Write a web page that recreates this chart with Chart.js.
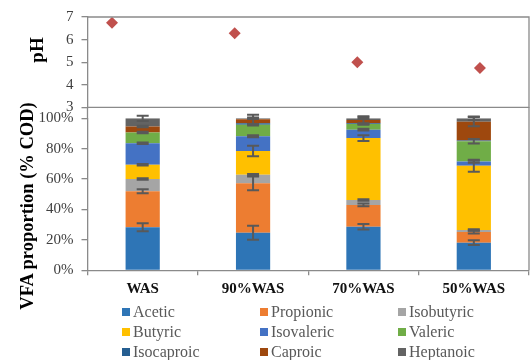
<!DOCTYPE html>
<html>
<head>
<meta charset="utf-8">
<script src="https://cdn.jsdelivr.net/npm/chart.js@4.4.1/dist/chart.umd.min.js"></script>
<style>
  html, body { margin: 0; padding: 0; background: #fff; }
  #wrap { position: relative; width: 530px; height: 360px; overflow: hidden;
          font-family: "Liberation Serif", "Times New Roman", serif; }
  canvas { position: absolute; left: 0; top: 0; }
  .ytitle { position: absolute; transform: translate(-50%, -50%) rotate(-90deg);
            white-space: nowrap; font-weight: bold; line-height: 1; color: #000; }
  #legend { position: absolute; left: 122px; top: 302px; display: grid;
            grid-template-columns: 138px 138px 138px; grid-auto-rows: 20px; }
  .item { display: flex; align-items: center; font-size: 16px; color: #595959; }
  .box { width: 8px; height: 8px; margin-right: 3px; flex: none; }
</style>
</head>
<body>
<div id="wrap">
  <canvas id="vfa" width="530" height="360"></canvas>
  <canvas id="ph" width="530" height="125"></canvas>
  <div class="ytitle" style="left:36px; top:50px; font-size:19px;">pH</div>
  <div class="ytitle" style="left:26.5px; top:206px; font-size:18.5px;">VFA proportion (% COD)</div>
  <div id="legend"></div>
</div>
<script>
// Feed mixtures
const categories = ['WAS', '90%WAS', '70%WAS', '50%WAS'];

// Final pH of each reactor
const phValues = [6.74, 6.28, 5.0, 4.74];

// VFA share of total COD (%) per acid
const acetic     = [28.3, 24.7, 28.7, 18.2];
const propionic  = [23.7, 32.5, 14.3, 7.0];
const isobutyric = [8.1, 5.7, 3.3, 1.3];
const butyric    = [9.4, 15.6, 40.7, 42.3];
const isovaleric = [14.1, 9.7, 5.5, 2.7];
const valeric    = [7.0, 7.6, 3.8, 13.4];
const isocaproic = [0.0, 0.9, 0.5, 0.5];
const caproic    = [4.0, 2.6, 2.0, 12.4];
const heptanoic  = [5.4, 0.7, 1.2, 2.2];

// Standard deviations (%)
const aceticErr     = [2.6, 4.6, 1.8, 1.5];
const propionicErr  = [1.3, 4.5, 0.9, 1.0];
const isobutyricErr = [0.5, 0.5, 0.5, 0.5];
const butyricErr    = [0.5, 3.4, 1.9, 4.0];
const isovalericErr = [0.5, 0.6, 0.6, 0.8];
const valericErr    = [0.5, 0.5, 0.5, 1.5];
const isocaproicErr = [0, 0, 0, 0];
const caproicErr    = [0.5, 3.0, 2.6, 3.0];
const heptanoicErr  = [1.7, 0.5, 0.5, 1.2];

// pH axis and VFA axis ticks
const phTicks = [3, 4, 5, 6, 7];
const pctTicks = [0, 20, 40, 60, 80, 100];

const acids = [
  { label: 'Acetic',     data: acetic,     err: aceticErr,     color: '#2E75B6' },
  { label: 'Propionic',  data: propionic,  err: propionicErr,  color: '#ED7D31' },
  { label: 'Isobutyric', data: isobutyric, err: isobutyricErr, color: '#A5A5A5' },
  { label: 'Butyric',    data: butyric,    err: butyricErr,    color: '#FFC000' },
  { label: 'Isovaleric', data: isovaleric, err: isovalericErr, color: '#4472C4' },
  { label: 'Valeric',    data: valeric,    err: valericErr,    color: '#70AD47' },
  { label: 'Isocaproic', data: isocaproic, err: isocaproicErr, color: '#255E91' },
  { label: 'Caproic',    data: caproic,    err: caproicErr,    color: '#9E480E' },
  { label: 'Heptanoic',  data: heptanoic,  err: heptanoicErr,  color: '#636363' }
];

const FONT = '"Liberation Serif", "Times New Roman", serif';
const AXIS_COLOR = '#8a8a8a';
const AXIS_W = 1.3;
const TICK_COLOR = '#404040';
const AXIS_LEFT = 87.5;
const PLOT_GAP = 11; // space between the pH panel and the 100% line

// Outline around the pH panel (left side is the y axis line)
const phFrame = {
  id: 'phFrame',
  afterDraw(chart) {
    const { ctx, chartArea: a } = chart;
    ctx.save();
    ctx.strokeStyle = AXIS_COLOR;
    ctx.lineWidth = AXIS_W;
    ctx.beginPath();
    ctx.moveTo(a.left, a.top);
    ctx.lineTo(a.right, a.top);
    ctx.lineTo(a.right, a.bottom);
    ctx.lineTo(a.left, a.bottom);
    ctx.stroke();
    ctx.restore();
  }
};

// Right edge of the lower panel, continuing the outline
const vfaFrame = {
  id: 'vfaFrame',
  afterDraw(chart) {
    const { ctx, chartArea: a } = chart;
    ctx.save();
    ctx.strokeStyle = AXIS_COLOR;
    ctx.lineWidth = AXIS_W;
    ctx.beginPath();
    ctx.moveTo(a.right, a.top - PLOT_GAP);
    ctx.lineTo(a.right, a.bottom);
    ctx.moveTo(a.left, a.top - PLOT_GAP);
    ctx.lineTo(a.left, a.top);
    ctx.stroke();
    ctx.restore();
  }
};

// Error bars at the top of each stacked segment
const errorBars = {
  id: 'errorBars',
  afterDatasetsDraw(chart) {
    const { ctx } = chart;
    const yScale = chart.scales.y;
    ctx.save();
    ctx.strokeStyle = '#595959';
    ctx.lineWidth = 2;
    const cum = categories.map(() => 0);
    chart.data.datasets.forEach((ds, d) => {
      const meta = chart.getDatasetMeta(d);
      ds.data.forEach((v, i) => {
        cum[i] += v;
        const e = ds.errors[i];
        if (!e) return;
        const x = meta.data[i].x;
        const yTop = yScale.getPixelForValue(cum[i] + e);
        const yBot = yScale.getPixelForValue(cum[i] - e);
        const hw = 6;
        ctx.beginPath();
        ctx.moveTo(x, yTop); ctx.lineTo(x, yBot);
        ctx.moveTo(x - hw, yTop); ctx.lineTo(x + hw, yTop);
        ctx.moveTo(x - hw, yBot); ctx.lineTo(x + hw, yBot);
        ctx.stroke();
      });
    });
    ctx.restore();
  }
};

const vfaChart = new Chart(document.getElementById('vfa'), {
  type: 'bar',
  data: {
    labels: categories,
    datasets: acids.map(a => ({
      label: a.label,
      data: a.data,
      errors: a.err,
      backgroundColor: a.color,
      borderWidth: 0
    }))
  },
  options: {
    responsive: false,
    animation: false,
    layout: { autoPadding: false, padding: { top: 118.3, right: 1, bottom: 0, left: 0 } },
    datasets: { bar: { categoryPercentage: 1, barPercentage: 0.31 } },
    plugins: { legend: { display: false }, tooltip: { enabled: false } },
    scales: {
      x: {
        stacked: true,
        grid: { offset: true, drawOnChartArea: false, tickLength: 5, color: AXIS_COLOR, lineWidth: AXIS_W },
        border: { color: AXIS_COLOR, width: AXIS_W },
        ticks: { padding: 4.5, color: '#111', font: { family: FONT, size: 15, weight: 'bold' } },
        afterFit(s) { s.height = 360 - 270.3; }
      },
      y: {
        stacked: true,
        min: 0,
        max: 100,
        afterBuildTicks(s) { s.ticks = pctTicks.map(v => ({ value: v })); },
        ticks: { padding: 8, color: TICK_COLOR, font: { family: FONT, size: 15 }, callback: v => v + '%' },
        grid: { drawOnChartArea: false, tickLength: 6, color: AXIS_COLOR, lineWidth: AXIS_W },
        border: { color: AXIS_COLOR, width: AXIS_W },
        afterFit(s) { s.width = AXIS_LEFT; }
      }
    }
  },
  plugins: [errorBars, vfaFrame]
});

new Chart(document.getElementById('ph'), {
  type: 'scatter',
  data: {
    datasets: [{
      label: 'pH',
      data: phValues.map((v, i) => ({ x: i + 1, y: v })),
      pointStyle: 'rectRot',
      pointRadius: 6,
      backgroundColor: '#C0504D',
      borderColor: '#C0504D',
      borderWidth: 0
    }]
  },
  options: {
    responsive: false,
    animation: false,
    layout: { autoPadding: false, padding: { top: 16, right: 1, bottom: 125 - 107.3, left: 0 } },
    plugins: { legend: { display: false }, tooltip: { enabled: false } },
    scales: {
      x: { type: 'linear', min: 0.8, max: 4.4, display: false },
      y: {
        min: 3,
        max: 7,
        afterBuildTicks(s) { s.ticks = phTicks.map(v => ({ value: v })); },
        ticks: { padding: 8, color: TICK_COLOR, font: { family: FONT, size: 15 } },
        grid: { drawOnChartArea: false, tickLength: 6, color: AXIS_COLOR, lineWidth: AXIS_W },
        border: { color: AXIS_COLOR, width: AXIS_W },
        afterFit(s) { s.width = AXIS_LEFT; }
      }
    }
  },
  plugins: [phFrame]
});

// Legend in three columns, built from the bar datasets
const legendEl = document.getElementById('legend');
vfaChart.data.datasets.forEach(ds => {
  const item = document.createElement('div');
  item.className = 'item';
  const box = document.createElement('span');
  box.className = 'box';
  box.style.background = ds.backgroundColor;
  const txt = document.createElement('span');
  txt.textContent = ds.label;
  item.appendChild(box);
  item.appendChild(txt);
  legendEl.appendChild(item);
});
</script>
</body>
</html>
